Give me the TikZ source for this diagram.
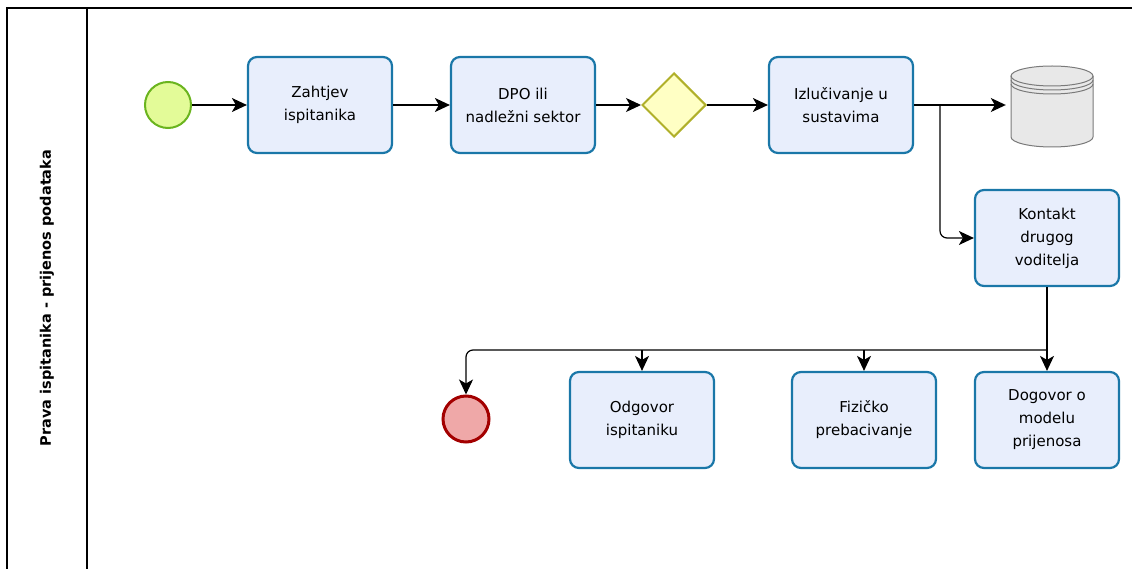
\documentclass[tikz,border=0pt]{standalone}
\usepackage{fontspec}
\setmainfont{DejaVu Sans}
\usetikzlibrary{arrows.meta,positioning,shapes.geometric}
\definecolor{taskfill}{HTML}{E8EEFC}
\definecolor{taskline}{HTML}{1A77A8}
\definecolor{startfill}{HTML}{E3FB98}
\definecolor{startline}{HTML}{6AB41E}
\definecolor{endfill}{HTML}{EFA8A8}
\definecolor{endline}{HTML}{A30000}
\definecolor{gwfill}{HTML}{FFFFC4}
\definecolor{gwline}{HTML}{B0B02A}
\definecolor{dbfill}{HTML}{E8E8E8}
\definecolor{dbline}{HTML}{7A7A7A}
\tikzset{
  taskbox/.style={draw=taskline, fill=taskfill, line width=2.2pt, rounded corners=9pt,
    minimum width=144pt, minimum height=96pt, inner sep=2pt, align=center,
    font=\fontsize{15}{23}\selectfont},
  startev/.style={circle, draw=startline, fill=startfill, line width=2pt, minimum size=46pt, inner sep=0pt},
  endev/.style={circle, draw=endline, fill=endfill, line width=3pt, minimum size=46pt, inner sep=0pt},
  gw/.style={diamond, draw=gwline, fill=gwfill, line width=2pt, minimum size=64pt, inner sep=0pt},
  flow/.style={line width=1.2pt, -{Stealth[length=15pt,width=14pt,inset=4pt]}},
}
\begin{document}
\begin{tikzpicture}[x=1pt,y=-1pt]
\useasboundingbox (0,0) rectangle (1132,569);
\begin{scope}
\clip (0,0) rectangle (1132,569);
\draw[line width=1.3pt] (7,8) rectangle (1150,590);
\draw[line width=1.3pt] (87,8) -- (87,590);
\end{scope}
\node[rotate=90, font=\fontsize{14.5}{17}\selectfont\bfseries] (lane) at (47,298) {Prava ispitanika - prijenos podataka};

\node[startev] (start) at (168,105) {};
\node[taskbox] (t1) at (320,105) {Zahtjev\\ispitanika};
\node[taskbox] (t2) at (523,105) {DPO ili\\nadležni sektor};
\node[gw] (gw) at (674,105) {};
\node[taskbox] (t3) at (841,105) {Izlučivanje u\\sustavima};
\node[minimum width=92pt, minimum height=84pt, inner sep=0pt] (db) at (1052,105) {};
\node[taskbox] (t4) at (1047,238) {Kontakt\\drugog\\voditelja};
\node[endev] (end) at (466,419) {};
\node[taskbox] (od) at (642,420) {Odgovor\\ispitaniku};
\node[taskbox] (fz) at (864,420) {Fizičko\\prebacivanje};
\node[taskbox] (dg) at (1047,420) {Dogovor o\\modelu\\prijenosa};

% database cylinder
\begin{scope}[line width=1pt]
\fill[dbfill] (1011,76) -- (1011,137) arc[start angle=180, end angle=0, x radius=41, y radius=10] -- (1093,76) arc[start angle=0, end angle=-180, x radius=41, y radius=10] -- cycle;
\draw[dbline] (1011,76) -- (1011,137) arc[start angle=180, end angle=0, x radius=41, y radius=10] -- (1093,76);
\draw[dbline] (1052,76) ellipse[x radius=41, y radius=10];
\draw[dbline] (1011,80) arc[start angle=180, end angle=0, x radius=41, y radius=10];
\draw[dbline] (1011,84) arc[start angle=180, end angle=0, x radius=41, y radius=10];
\end{scope}

\draw[flow] (start) -- (t1);
\draw[flow] (t1) -- (t2);
\draw[flow] (t2) -- (gw);
\draw[flow] (gw) -- (t3);
\draw[flow] (t3.east) -- (db.west);
\coordinate (br) at (940,105);
\draw[flow, rounded corners=7pt] (br) |- (t4.west);

\coordinate (sp) at (1047,350);
\draw[flow] (t4.south) -- (dg.north);
\draw[flow, rounded corners=7pt] (sp) -| (end.north);
\draw[flow] (od.north |- sp) -- (od.north);
\draw[flow] (fz.north |- sp) -- (fz.north);
\end{tikzpicture}
\end{document}
